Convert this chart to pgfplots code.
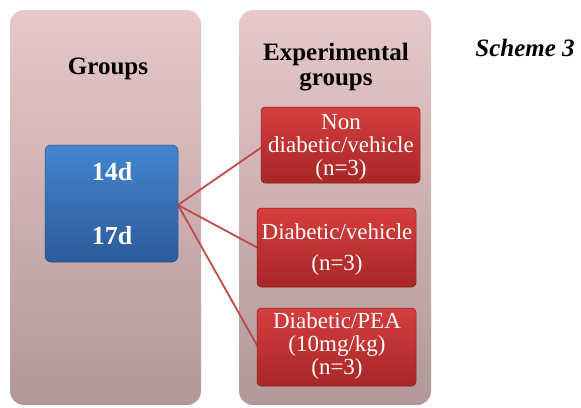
\documentclass[border=0pt]{standalone}
\usepackage{pgfplots}
\pgfplotsset{compat=1.18}
\usepackage{fontspec}
\setmainfont{Liberation Serif}
\definecolor{panTop}{HTML}{E8C8CA}
\definecolor{panBot}{HTML}{B09899}
\definecolor{bluTop}{HTML}{4585D0}
\definecolor{bluBot}{HTML}{2B5B9A}
\definecolor{redTop}{HTML}{D53E3E}
\definecolor{redBot}{HTML}{A82626}
\definecolor{lnRed}{HTML}{C04A4A}
\begin{document}
\begin{tikzpicture}
\begin{axis}[
  width=581pt, height=407pt, scale only axis,
  xmin=0, xmax=581, ymin=0, ymax=407, y dir=reverse,
  axis lines=none, clip=false,
]
\path (axis cs:0,0) rectangle (axis cs:581,407);
% panels
\shade[top color=panTop, bottom color=panBot, rounded corners=14pt]
  (axis cs:10,10) rectangle (axis cs:201,405);
\shade[top color=panTop, bottom color=panBot, rounded corners=14pt]
  (axis cs:239,10) rectangle (axis cs:431,405);
% connecting lines
\addplot[lnRed, line width=1.8pt, no marks] coordinates {(178,205) (262,147)};
\addplot[lnRed, line width=1.8pt, no marks] coordinates {(178,205) (258,248)};
\addplot[lnRed, line width=1.8pt, no marks] coordinates {(178,205) (258,347)};
% blue box
\shade[top color=bluTop, bottom color=bluBot, rounded corners=6pt, draw=bluBot!80!black, line width=0.5pt]
  (axis cs:45,145) rectangle (axis cs:178,262);
% red boxes
\shade[top color=redTop, bottom color=redBot, rounded corners=4pt, draw=redBot!80!black, line width=0.5pt]
  (axis cs:261,107) rectangle (axis cs:420,183);
\shade[top color=redTop, bottom color=redBot, rounded corners=4pt, draw=redBot!80!black, line width=0.5pt]
  (axis cs:257,208) rectangle (axis cs:416,287);
\shade[top color=redTop, bottom color=redBot, rounded corners=4pt, draw=redBot!80!black, line width=0.5pt]
  (axis cs:257,308) rectangle (axis cs:416,386);
% texts
\node[font=\fontsize{25}{27}\selectfont\bfseries] at (axis cs:108,69) {Groups};
\node[font=\fontsize{25}{25}\selectfont\bfseries, align=center] at (axis cs:336,67) {Experimental\\groups};
\node[font=\fontsize{26}{28}\selectfont\bfseries, text=white] at (axis cs:112,172) {14d};
\node[font=\fontsize{26}{28}\selectfont\bfseries, text=white] at (axis cs:112,236) {17d};
\node[font=\fontsize{23}{23}\selectfont, text=white, align=center] at (axis cs:341,147) {Non\\diabetic/vehicle\\(n=3)};
\node[font=\fontsize{23}{23}\selectfont, text=white] at (axis cs:337,232) {Diabetic/vehicle};
\node[font=\fontsize{23}{23}\selectfont, text=white] at (axis cs:337,265) {(n=3)};
\node[font=\fontsize{23}{23}\selectfont, text=white, align=center] at (axis cs:337,346) {Diabetic/PEA\\(10mg/kg)\\(n=3)};
\node[font=\fontsize{25}{27}\selectfont\bfseries\itshape] at (axis cs:525,48) {Scheme 3};
\end{axis}
\end{tikzpicture}
\end{document}
